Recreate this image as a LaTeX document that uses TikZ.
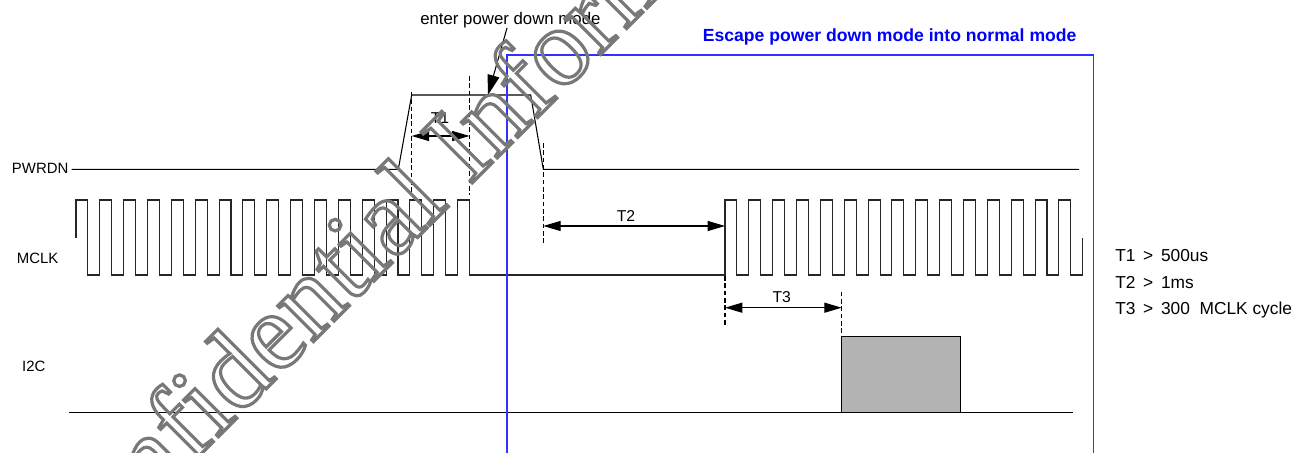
\documentclass[tikz,border=0pt]{standalone}
\usepackage{fontspec}
\setmainfont{Liberation Sans}
\newfontfamily\wmfont{Liberation Serif}
\usepackage{xcolor}
\usetikzlibrary{arrows.meta, positioning, calc}
\definecolor{escblue}{RGB}{0,0,255}
\definecolor{frameblue}{RGB}{50,50,255}
\definecolor{busgray}{RGB}{179,179,179}
\definecolor{wmgray}{RGB}{120,120,120}
% hollow (stroked) glyphs for the watermark
\newcommand{\hollow}[1]{\special{pdf:literal 1 Tr 2.4 w}#1\special{pdf:literal 0 Tr}}
\tikzset{
  wave/.style={line width=0.8pt, black!85},
  guide/.style={line width=0.9pt, dash pattern=on 3.5pt off 2pt},
  span/.style={<->, line width=0.8pt},
  siglbl/.style={font=\fontsize{11.2}{13}\selectfont, inner sep=0pt, anchor=west},
  spanlbl/.style={font=\fontsize{11.8}{14}\selectfont, inner sep=0pt},
  note/.style={font=\fontsize{13}{15}\selectfont, inner sep=0pt, anchor=west},
}
\begin{document}
\begin{tikzpicture}[x=0.75pt, y=-0.75pt, >={Triangle[length=13pt,width=7.5pt]}]
  \useasboundingbox (0,0) rectangle (1310,453);
  \def\per{23.85}\def\hw{11.93}            % MCLK period / half period
  \def\hi{200}\def\lo{275}\def\mi{237.5}    % MCLK levels
  % ---- signal names ----
  \node[siglbl] (pwrdn) at (11.7,168.3) {PWRDN};
  \node[siglbl] (mclk)  at (16.7,258)   {MCLK};
  \node[siglbl] (itwoc) at (21.9,366.7) {I2C};
  % ---- PWRDN ----
  \draw[wave,black] (71.7,169.3) -- (398.3,169.3) -- (411.7,95) -- (530.7,95)
    -- (543.3,169.3) -- (1079,169.3);
  % ---- MCLK: 17 cycles, stopped, 15 cycles ----
  \draw[wave] (76,\mi)
    \foreach \k in {0,...,16}{
      -- ({76+\k*\per},\hi) -- ({76+\k*\per+\hw},\hi)
      -- ({76+\k*\per+\hw},\lo) -- ({76+(\k+1)*\per},\lo)}
    -- (725,\lo)
    \foreach \k in {0,...,14}{
      -- ({725+\k*\per},\hi) -- ({725+\k*\per+\hw},\hi)
      -- ({725+\k*\per+\hw},\lo) -- ({725+(\k+1)*\per},\lo)}
    -- ({725+15*\per},\mi);
  % ---- I2C ----
  \draw[wave,black] (69.4,412.7) -- (1073,412.7);
  \filldraw[fill=busgray, draw=black, line width=0.8pt] (841.7,336.7) rectangle (960.2,412.7);
  % ---- timing guides ----
  \draw[guide] (411.7,92)    -- (411.7,195);
  \draw[guide] (469.5,76)    -- (469.5,195);
  \draw[guide] (543.3,143)   -- (543.3,245);
  \draw[guide] (725,276)     -- (725,327);
  \draw[guide] (841.7,291.7) -- (841.7,336.7);
  \coordinate (tonea) at (411.7,136);   \coordinate (toneb) at (469.5,136);
  \coordinate (ttwoa) at (543.3,226);   \coordinate (ttwob) at (725,226);
  \coordinate (tthra) at (725,307.7);   \coordinate (tthrb) at (841.7,307.7);
  \draw[span] (tonea) -- (toneb);
  \draw[span] (ttwoa) -- (ttwob);
  \draw[span] (tthra) -- (tthrb);
  \node[spanlbl] (tonelbl) at (440,118)   {T1};
  \node[spanlbl] (ttwolbl) at (626,216)   {T2};
  \node[spanlbl] (tthrlbl) at (781.7,296.7) {T3};
  % ---- power down annotation ----
  \node[note, font=\fontsize{12.6}{14}\selectfont] (enter) at (420,20) {enter power down mode};
  \coordinate (entertail) at (507,28);
  \coordinate (entertip)  at (488,95);
  \draw[-{Triangle[length=15pt,width=9pt]}, line width=0.8pt] (entertail) -- (entertip);
  % ---- escape window ----
  \draw[frameblue, line width=0.9pt] (507,453) -- (507,55) -- (1093.3,55) -- (1093.3,453);
  \node[escblue, inner sep=0pt, anchor=east, font=\bfseries\fontsize{13.2}{16}\selectfont]
    (title) at (1076.7,36.7) {Escape power down mode into normal mode};
  % ---- limits ----
  \node[note] (lone)   at (1115,256) {T1 \,> \,500us};
  \node[note] (ltwo)   at (1115,283) {T2 \,> \,1ms};
  \node[note] (lthree) at (1115,310) {T3 \,> \,300\ \ MCLK cycle};
  % ---- watermark ----
  \node[wmgray, anchor=base, rotate=45, inner sep=0pt,
        font=\wmfont\fontsize{82.5}{82.5}\selectfont] (wm) at (451,204)
    {\hollow{Confidential Information}};
\end{tikzpicture}
\end{document}
